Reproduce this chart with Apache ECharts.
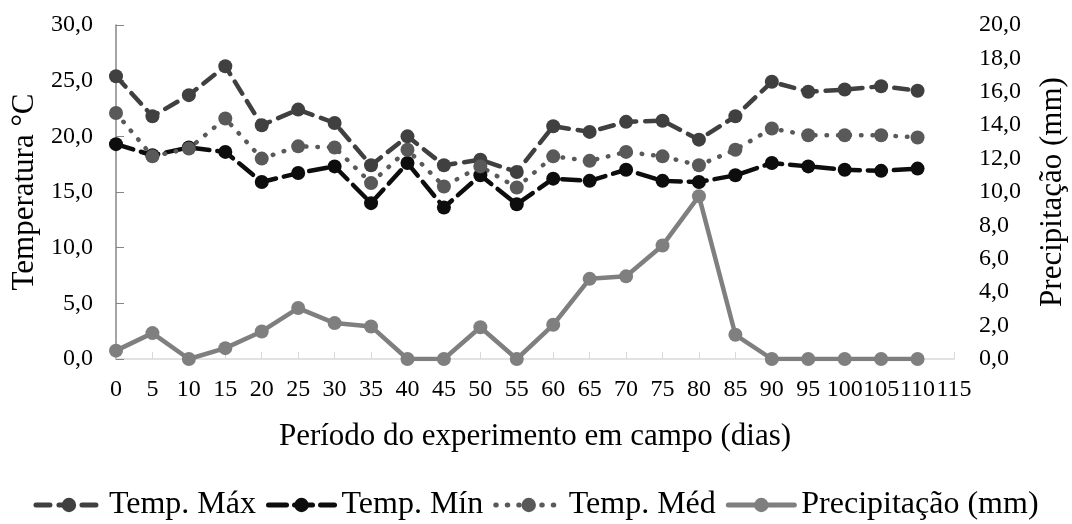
<!DOCTYPE html>
<html>
<head>
<meta charset="utf-8">
<script src="https://cdn.jsdelivr.net/npm/echarts@6/dist/echarts.min.js"></script>
<style>
  html, body { margin: 0; padding: 0; background: #fff; }
  #chart { width: 1072px; height: 524px; }
</style>
</head>
<body>
<div id="chart"></div>
<script>
// dias de campo
const dias = ["0", "5", "10", "15", "20", "25", "30", "35", "40", "45", "50", "55",
  "60", "65", "70", "75", "80", "85", "90", "95", "100", "105", "110", "115"];

const tempMax = [25.4, 21.8, 23.7, 26.3, 21.0, 22.4, 21.2, 17.4, 20.0, 17.4, 17.9, 16.8,
  20.9, 20.4, 21.3, 21.4, 19.7, 21.8, 24.9, 24.0, 24.2, 24.5, 24.1];
const tempMin = [19.3, 18.3, 19.0, 18.6, 15.9, 16.7, 17.3, 14.0, 17.6, 13.6, 16.5, 13.9,
  16.2, 16.0, 17.0, 16.0, 15.9, 16.5, 17.6, 17.3, 17.0, 16.9, 17.1];
const tempMed = [22.1, 18.2, 18.9, 21.6, 18.0, 19.1, 19.0, 15.8, 18.8, 15.5, 17.3, 15.4,
  18.2, 17.8, 18.6, 18.2, 17.4, 18.8, 20.7, 20.1, 20.1, 20.1, 19.9];
const precipitacao = [0.5, 1.55, 0, 0.65, 1.65, 3.05, 2.15, 1.95, 0, 0, 1.9, 0,
  2.05, 4.8, 4.95, 6.8, 9.75, 1.45, 0, 0, 0, 0, 0];

const font = "'Liberation Serif', 'Times New Roman', serif";
const fmt = v => v.toFixed(1).replace(".", ",");

const chart = echarts.init(document.getElementById("chart"));

function serie(name, data, color, dash, yIdx) {
  return {
    name: name,
    type: "line",
    yAxisIndex: yIdx,
    data: data,
    symbol: "circle",
    symbolSize: 14,
    itemStyle: { color: color },
    lineStyle: { color: color, width: 4.5, type: dash, cap: "round" },
    animation: false
  };
}

chart.setOption({
  textStyle: { fontFamily: font, color: "#000" },
  grid: { left: 116, right: 118, top: 25, bottom: 165, outerBoundsMode: "none" },
  legend: {
    top: 484,
    left: "center",
    itemWidth: 66,
    itemHeight: 18,
    itemGap: 10,
    lineStyle: { width: 5 },
    textStyle: { fontFamily: font, fontSize: 32, color: "#000", padding: [0, 0, 0, 2] },
    data: ["Temp. Máx", "Temp. Mín", "Temp. Méd", "Precipitação (mm)"]
  },
  xAxis: {
    type: "category",
    data: dias,
    boundaryGap: false,
    name: "Período do experimento em campo (dias)",
    nameLocation: "middle",
    nameGap: 62,
    nameTextStyle: { fontFamily: font, fontSize: 31, color: "#000" },
    axisLine: { lineStyle: { color: "#d9d9d9", width: 1.5 } },
    axisTick: { inside: true, length: 7, lineStyle: { color: "#d9d9d9" } },
    axisLabel: { interval: 0, hideOverlap: false, fontSize: 24, margin: 19, color: "#000", fontFamily: font }
  },
  yAxis: [
    {
      type: "value",
      min: 0, max: 30, interval: 5,
      name: "Temperatura °C",
      nameLocation: "middle",
      nameGap: 74,
      nameTextStyle: { fontFamily: font, fontSize: 31, color: "#000" },
      axisLine: { show: true, lineStyle: { color: "#868686", width: 1.5 } },
      axisTick: { show: true, inside: true, length: 8, lineStyle: { color: "#868686" } },
      splitLine: { show: false },
      axisLabel: { formatter: fmt, fontSize: 24, margin: 23, color: "#000", fontFamily: font }
    },
    {
      type: "value",
      min: 0, max: 20, interval: 2,
      name: "Precipitação (mm)",
      nameLocation: "middle",
      nameGap: 83,
      nameTextStyle: { fontFamily: font, fontSize: 31, color: "#000" },
      axisLine: { show: false },
      axisTick: { show: false },
      splitLine: { show: false },
      axisLabel: { formatter: fmt, fontSize: 24, margin: 25, color: "#000", fontFamily: font }
    }
  ],
  series: [
    serie("Temp. Máx", tempMax, "#404040", [14, 9], 0),
    serie("Temp. Mín", tempMin, "#0d0d0d", [18, 8], 0),
    serie("Temp. Méd", tempMed, "#595959", [0.5, 11], 0),
    serie("Precipitação (mm)", precipitacao, "#7f7f7f", "solid", 1)
  ]
});
</script>
</body>
</html>
